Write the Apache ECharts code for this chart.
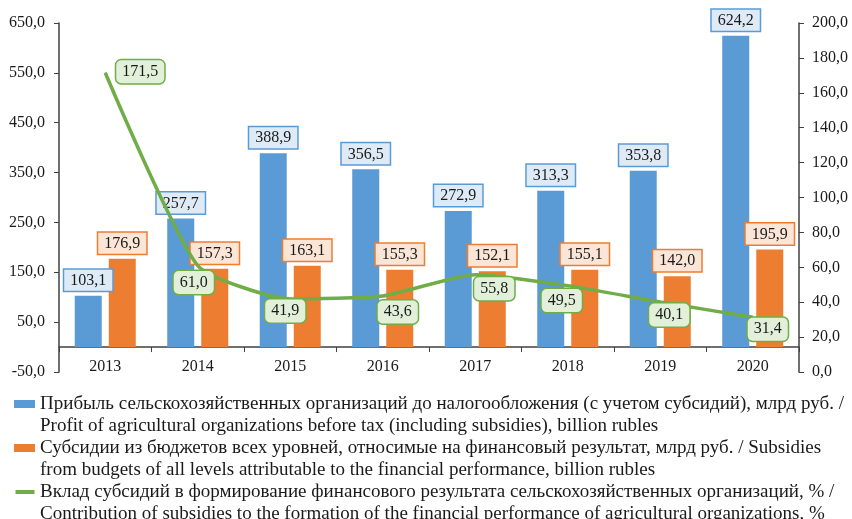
<!DOCTYPE html>
<html>
<head>
<meta charset="utf-8">
<script src="https://cdn.jsdelivr.net/npm/echarts@6/dist/echarts.min.js"></script>
<style>
  html, body { margin: 0; padding: 0; background: #fff; }
  #chart { width: 852px; height: 519px; }
</style>
</head>
<body>
<div id="chart"></div>
<script>
const years = ['2013', '2014', '2015', '2016', '2017', '2018', '2019', '2020']
const profit = [103.1, 257.7, 388.9, 356.5, 272.9, 313.3, 353.8, 624.2]
const subsidies = [176.9, 157.3, 163.1, 155.3, 152.1, 155.1, 142.0, 195.9]
const contribution = [171.5, 61.0, 41.9, 43.6, 55.8, 49.5, 40.1, 31.4]
const seriesNames = [
  'Прибыль сельскохозяйственных организаций до налогообложения (с учетом субсидий), млрд руб. /\nProfit of agricultural organizations before tax (including subsidies), billion rubles',
  'Субсидии из бюджетов всех уровней, относимые на финансовый результат, млрд руб. / Subsidies\nfrom budgets of all levels attributable to the financial performance, billion rubles',
  'Вклад субсидий в формирование финансового результата сельскохозяйственных организаций, % /\nContribution of subsidies to the formation of the financial performance of agricultural organizations, %'
]

// where each green label sits relative to its point
const lineLabelOffsets = [[35, -1], [-4, 17], [-5, 12], [15, 16], [19, 14], [-6, 15], [9, 13], [15, 12]]

const font = 'Liberation Serif'
const txt = '#1a1a1a'
const fmt = v => Number(v).toFixed(1).replace('.', ',')

const rectIcon = 'path://M0,0L0,0M0,7L21,7L21,15L0,15ZM0,44L0,44'
const lineIcon = 'path://M0,0L0,0M1,9L20,9L20,13L1,13ZM0,44L0,44'

const chart = echarts.init(document.getElementById('chart'))

function boxLabel(bg, border) {
  return {
    show: true,
    position: 'top',
    distance: 5,
    formatter: p => fmt(p.value),
    fontFamily: font,
    fontSize: 16,
    color: txt,
    backgroundColor: bg,
    borderColor: border,
    borderWidth: 1.5,
    padding: [3, 6, 2, 6],
  }
}

chart.setOption({
  animation: false,
  backgroundColor: '#fff',
  grid: { left: 59, right: 53, top: 23, bottom: 147 },
  legend: {
    orient: 'vertical',
    left: 14,
    top: 393,
    height: 140,
    padding: 0,
    itemGap: 0,
    itemWidth: 21,
    itemHeight: 44,
    selectedMode: false,
    itemStyle: { borderWidth: 0 },
    textStyle: { fontFamily: font, fontSize: 19, lineHeight: 22, color: txt },
    data: [
      { name: seriesNames[0], icon: rectIcon },
      { name: seriesNames[1], icon: rectIcon },
      { name: seriesNames[2], icon: lineIcon },
    ],
  },
  xAxis: {
    type: 'category',
    data: years,
    axisLine: { onZero: true, onZeroAxisIndex: 0, lineStyle: { color: '#404040', width: 1.5 } },
    axisTick: { show: true, length: 5, lineStyle: { color: '#404040' } },
    axisLabel: { fontFamily: font, fontSize: 16, color: txt, margin: -13 },
  },
  yAxis: [
    {
      type: 'value',
      min: -50,
      max: 650,
      interval: 100,
      splitLine: { show: false },
      axisLine: { show: true, lineStyle: { color: '#404040', width: 1.5 } },
      axisTick: { show: true, length: 5, lineStyle: { color: '#404040' } },
      axisLabel: { fontFamily: font, fontSize: 16, color: txt, margin: 14, formatter: fmt },
    },
    {
      type: 'value',
      min: 0,
      max: 200,
      interval: 20,
      splitLine: { show: false },
      axisLine: { show: true, lineStyle: { color: '#404040', width: 1.5 } },
      axisTick: { show: true, length: 5, lineStyle: { color: '#404040' } },
      axisLabel: { fontFamily: font, fontSize: 16, color: txt, margin: 13, formatter: fmt },
    },
  ],
  series: [
    {
      name: seriesNames[0],
      type: 'bar',
      data: profit,
      barWidth: 27,
      barGap: '26%',
      itemStyle: { color: '#5b9bd5' },
      label: boxLabel('#deebf7', '#5b9bd5'),
    },
    {
      name: seriesNames[1],
      type: 'bar',
      data: subsidies,
      barWidth: 27,
      barGap: '26%',
      itemStyle: { color: '#ed7d31' },
      label: boxLabel('#fbe5d6', '#ed7d31'),
    },
    {
      name: seriesNames[2],
      type: 'line',
      yAxisIndex: 1,
      smooth: 0.18,
      symbol: 'circle',
      symbolSize: 1,
      z: 5,
      itemStyle: { color: '#70ad47' },
      lineStyle: { color: '#70ad47', width: 3.5 },
      data: contribution.map((v, i) => ({ value: v, label: { offset: lineLabelOffsets[i] } })),
      label: {
        show: true,
        position: 'inside',
        formatter: p => fmt(p.value),
        fontFamily: font,
        fontSize: 16,
        color: txt,
        backgroundColor: '#e2f0d9',
        borderColor: '#70ad47',
        borderWidth: 1.5,
        borderRadius: 5,
        padding: [4, 6, 3, 6],
      },
    },
  ],
})
</script>
</body>
</html>
